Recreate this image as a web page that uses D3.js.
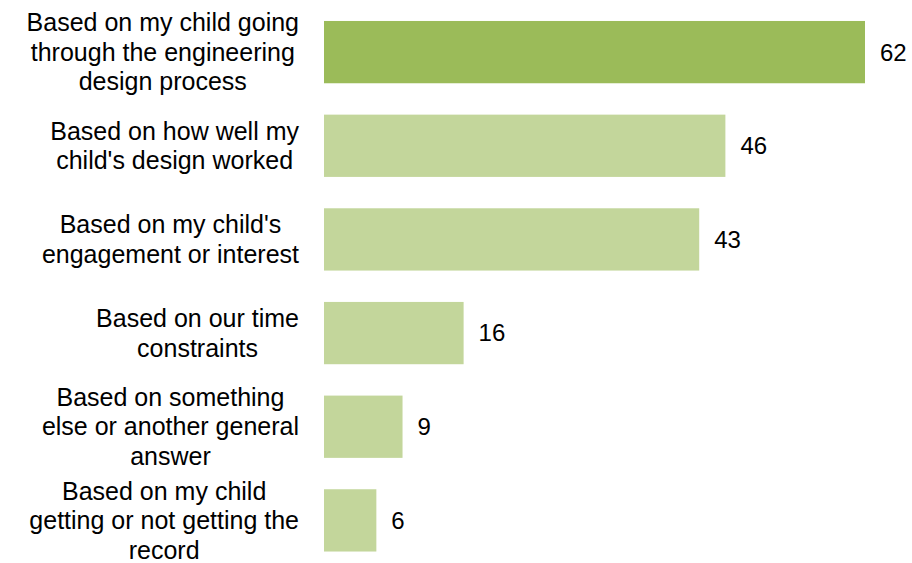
<!DOCTYPE html>
<html>
<head>
<meta charset="utf-8">
<script src="https://cdn.jsdelivr.net/npm/d3@7"></script>
<style>
  html, body { margin: 0; padding: 0; background: #ffffff; }
  svg { display: block; font-family: "Liberation Sans", Arial, Helvetica, sans-serif; }
</style>
</head>
<body>
<svg id="chart" width="912" height="563"></svg>
<script>
// Reasons given, one entry per bar (top to bottom), each split into its display lines
const categories = [
  ["Based on my child going", "through the engineering", "design process"],
  ["Based on how well my", "child's design worked"],
  ["Based on my child's", "engagement or interest"],
  ["Based on our time", "constraints"],
  ["Based on something", "else or another general", "answer"],
  ["Based on my child", "getting or not getting the", "record"]
];
const values = [62, 46, 43, 16, 9, 6];
const highlighted = [true, false, false, false, false, false];

const svg = d3.select("#chart");
const labelRight = 299;
const lineHeight = 29.5;

const x = d3.scaleLinear().domain([0, 62]).range([324, 865]);
const y = d3.scaleBand()
  .domain(d3.range(values.length))
  .range([-10.4, 582.9])
  .paddingInner(0.335)
  .paddingOuter(0.335);

// Bars
svg.append("g")
  .selectAll("rect")
  .data(values)
  .join("rect")
  .attr("x", x(0))
  .attr("y", (d, i) => y(i))
  .attr("width", d => x(d) - x(0))
  .attr("height", y.bandwidth())
  .attr("fill", (d, i) => highlighted[i] ? "#9bbb59" : "#c3d69b");

// Value labels to the right of each bar
svg.append("g")
  .selectAll("text")
  .data(values)
  .join("text")
  .attr("x", d => x(d) + 15)
  .attr("y", (d, i) => y(i) + y.bandwidth() / 2)
  .attr("dy", "0.35em")
  .attr("font-size", 24)
  .attr("fill", "#000")
  .text(d => d);

// Category labels: centred multi-line blocks, right-aligned next to the bars
const labels = svg.append("g");
categories.forEach((lines, i) => {
  const cy = y(i) + y.bandwidth() / 2;
  const t = labels.append("text")
    .attr("font-size", 25)
    .attr("fill", "#000")
    .attr("text-anchor", "middle");
  const spans = lines.map((line, k) =>
    t.append("tspan")
      .attr("y", cy + (k - (lines.length - 1) / 2) * lineHeight)
      .attr("dy", "0.35em")
      .text(line)
  );
  const maxW = d3.max(spans, s => s.node().getComputedTextLength());
  spans.forEach(s => s.attr("x", labelRight - maxW / 2));
});
</script>
</body>
</html>
